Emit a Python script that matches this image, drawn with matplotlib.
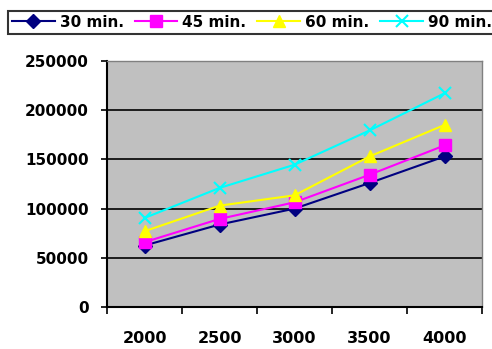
import matplotlib.pyplot as plt

plt.rcParams['font.family'] = ['DejaVu Sans']
plt.rcParams['font.weight'] = 'bold'

categories = ['2000', '2500', '3000', '3500', '4000']
serie_30 = [62500, 83800, 100000, 126000, 153000]
serie_45 = [65900, 89500, 106400, 134400, 164200]
serie_60 = [77000, 103000, 113500, 153000, 185000]
serie_90 = [90500, 121000, 144600, 179400, 217200]
labels = ['30 min.', '45 min.', '60 min.', '90 min.']

fig = plt.figure(figsize=(4.92, 3.49), dpi=100)
ax = fig.add_axes([0.2175, 0.1203, 0.7622, 0.7049])
ax.set_facecolor('#C0C0C0')

x = range(len(categories))
ax.plot(x, serie_30, color='#000080', marker='D', markersize=7, lw=1.5, label=labels[0])
ax.plot(x, serie_45, color='#FF00FF', marker='s', markersize=8, lw=1.5, label=labels[1])
ax.plot(x, serie_60, color='#FFFF00', marker='^', markersize=9, lw=1.5, label=labels[2])
ax.plot(x, serie_90, color='#00FFFF', marker='x', markersize=9, mew=1.5, lw=1.5, label=labels[3])

# axes style, excel-like
ax.set_xlim(-0.5, len(categories) - 0.5)
ax.set_ylim(0, 250000)
ax.set_yticks(range(0, 250001, 50000))
ax.yaxis.grid(True, color='black', lw=1.2)
ax.set_axisbelow(True)

ax.set_xticks([i - 0.5 for i in range(len(categories) + 1)])
ax.set_xticklabels([])
ax.set_xticks(list(x), minor=True)
ax.set_xticklabels(categories, minor=True, fontsize=11.5, fontweight='bold')
ax.tick_params(axis='x', which='minor', length=0, pad=17)
ax.tick_params(axis='x', which='major', length=5, width=1.2, direction='out')
ax.tick_params(axis='y', length=4, width=1.2, direction='out', labelsize=11, pad=9)

for s in ['left', 'bottom']:
    ax.spines[s].set_color('black')
    ax.spines[s].set_linewidth(1.5)
for s in ['top', 'right']:
    ax.spines[s].set_color('#808080')
    ax.spines[s].set_linewidth(1)

leg = fig.legend(loc='upper left', bbox_to_anchor=(8 / 492, 1 - 11 / 349), ncol=4,
                 frameon=True, fancybox=False, borderaxespad=0,
                 handlelength=2.8, handletextpad=0.33, columnspacing=0.72,
                 borderpad=0.25, prop={'weight': 'bold', 'size': 11})
leg.get_frame().set_edgecolor('black')
leg.get_frame().set_linewidth(1.5)

fig.savefig('out.png', dpi=100)
